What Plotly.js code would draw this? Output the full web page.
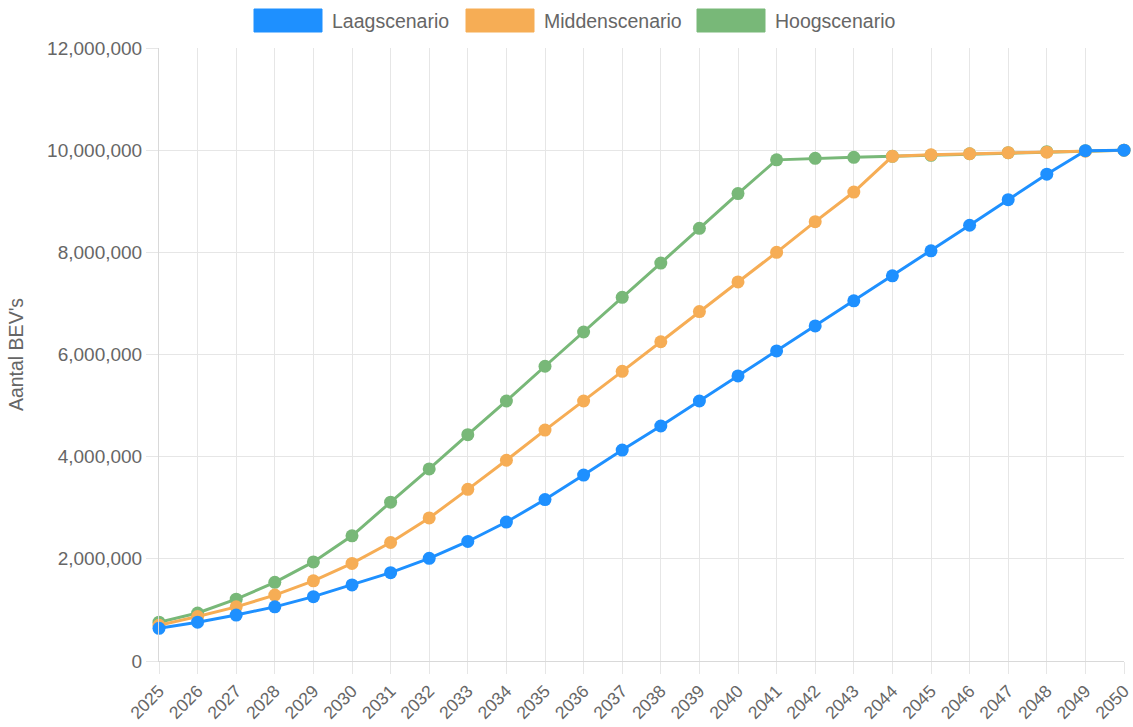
<!DOCTYPE html>
<html>
<head>
<meta charset="utf-8">
<script src="https://cdn.plot.ly/plotly-3.0.1.min.js"></script>
<style>html,body{margin:0;padding:0;background:#fff;}#chart{width:1133px;height:727px;}</style>
</head>
<body>
<div id="chart"></div>
<script>
const years = [2025,2026,2027,2028,2029,2030,2031,2032,2033,2034,2035,2036,2037,2038,2039,2040,2041,2042,2043,2044,2045,2046,2047,2048,2049,2050];
const seriesNames = ["Laagscenario","Middenscenario","Hoogscenario"];
const laag = [640000,760000,900000,1060000,1260000,1490000,1730000,2010000,2340000,2720000,3160000,3640000,4130000,4600000,5090000,5580000,6070000,6560000,7050000,7540000,8030000,8530000,9030000,9530000,9990000,10000000];
const midden = [700000,870000,1060000,1290000,1570000,1910000,2320000,2800000,3360000,3930000,4520000,5090000,5670000,6250000,6840000,7420000,8000000,8600000,9180000,9880000,9910000,9930000,9950000,9960000,9980000,10000000];
const hoog = [760000,940000,1210000,1540000,1940000,2450000,3110000,3760000,4430000,5090000,5770000,6440000,7120000,7790000,8470000,9150000,9810000,9840000,9860000,9880000,9900000,9930000,9950000,9970000,9990000,10000000];
const yTickVals = [0,2000000,4000000,6000000,8000000,10000000,12000000];
const yTickText = ["0","2,000,000","4,000,000","6,000,000","8,000,000","10,000,000","12,000,000"];
const colors = ["#1E90FF","#F6AD55","#78B878"];

const allSeries = [laag, midden, hoog];
const traces = allSeries.map((vals, i) => ({
  type: "scatter",
  mode: "lines+markers",
  name: seriesNames[i],
  x: years,
  y: vals,
  line: {color: colors[i], width: 3},
  marker: {color: colors[i], size: 13},
  cliponaxis: false,
  showlegend: false
}));
traces.reverse();

const font = {family: "Liberation Sans, Arial, sans-serif", color: "#666666"};

const plotL = 159, plotW = 965, plotB = 661, plotH = 613;
const legendX = [254, 466, 697];
const shapes = [];
const annotations = [];
seriesNames.forEach((n, i) => {
  shapes.push({type: "rect", xref: "paper", yref: "paper",
    x0: (legendX[i] - plotL) / plotW, x1: (legendX[i] + 68 - plotL) / plotW,
    y0: (plotB - 32) / plotH, y1: (plotB - 9) / plotH,
    fillcolor: colors[i], line: {color: colors[i], width: 1}, layer: "above"});
  annotations.push({xref: "paper", yref: "paper", x: (legendX[i] + 76 - plotL) / plotW, y: (plotB - 20.5) / plotH,
    xanchor: "left", yanchor: "middle", showarrow: false, text: n,
    font: Object.assign({}, font, {size: 19.5})});
});

const layout = {
  width: 1133, height: 727,
  margin: {l: 159, r: 9, t: 48, b: 66},
  paper_bgcolor: "#ffffff", plot_bgcolor: "#ffffff",
  font: font,
  showlegend: false,
  shapes: shapes,
  annotations: annotations,
  xaxis: {
    range: [2024.9999, 2050.0001],
    tickmode: "array", tickvals: years, ticktext: years.map(String),
    tickangle: -45,
    ticklabeloverflow: "allow",
    tickfont: Object.assign({}, font, {size: 17.5}),
    showgrid: true, gridcolor: "#e6e6e6", gridwidth: 1,
    ticks: "outside", ticklen: 12, tickcolor: "#e6e6e6",
    showline: true, linecolor: "#d9d9d9", linewidth: 1,
    zeroline: false, fixedrange: true
  },
  yaxis: {
    range: [0, 12000000],
    tickmode: "array", tickvals: yTickVals, ticktext: yTickText,
    tickfont: Object.assign({}, font, {size: 19}),
    showgrid: true, gridcolor: "#e6e6e6", gridwidth: 1,
    ticks: "outside", ticklen: 12, tickcolor: "#e6e6e6",
    showline: true, linecolor: "#d9d9d9", linewidth: 1,
    zeroline: false, fixedrange: true,
    title: {text: "Aantal BEV's", font: Object.assign({}, font, {size: 19.5}), standoff: 18}
  }
};

Plotly.newPlot("chart", traces, layout, {staticPlot: true, displayModeBar: false});
</script>
</body>
</html>
